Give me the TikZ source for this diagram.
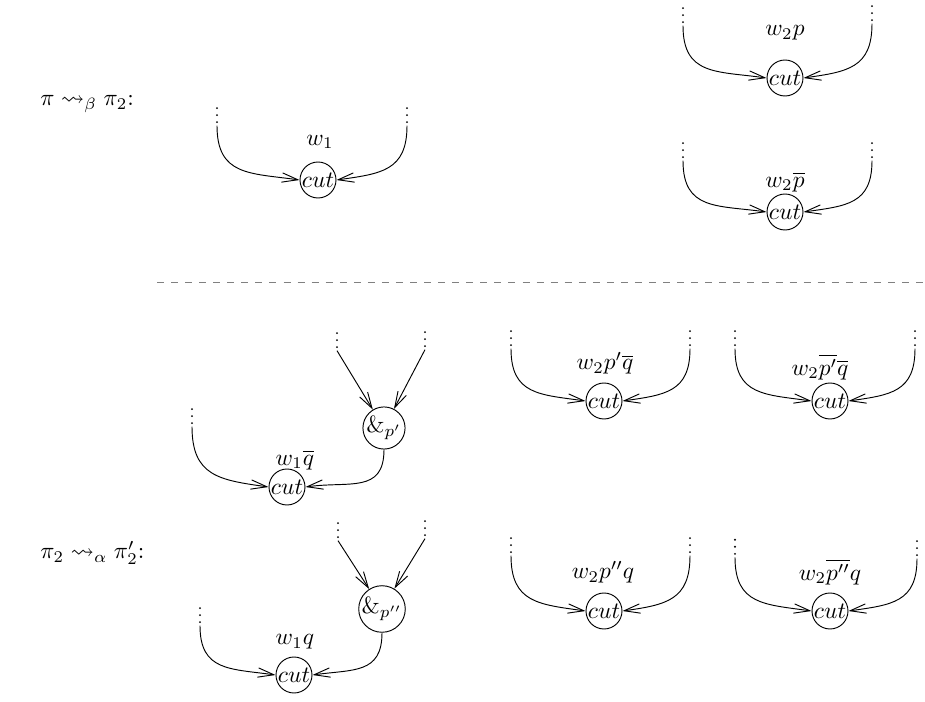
\documentclass[tikz,border=0pt]{standalone}
\usepackage{amsmath,amssymb}
\usepackage{tikz}
\usetikzlibrary{arrows.meta}

\begin{document}
\begin{tikzpicture}[
  font=\normalsize,
  >={Straight Barb[length=2.4mm,width=1.4mm]},
  cutnode/.style={circle, draw=black, minimum size=5.4mm, inner sep=0pt},
  parnode/.style={circle, draw=black, minimum size=6mm, inner sep=0pt},
  dotcol/.style={draw=black, dash pattern=on 0pt off 3pt, line cap=round, line width=0.9pt},
  wire/.style={->, draw=black, line width=0.4pt},
  inleft/.style={out=-90, in=172, looseness=1.3},
  inright/.style={out=-90, in=8, looseness=1.3}
]
  \useasboundingbox (0,0) rectangle (13.875,10.53);
  % step labels and separator
  \node[anchor=west] (hbeta) at (0.48,8.97) {$\pi \rightsquigarrow_{\beta} \pi_2$:};
  \node[anchor=west] (halpha) at (0.48,2.235) {$\pi_2 \rightsquigarrow_{\alpha} \pi_2'$:};
  \draw[gray, dashed] (2.355,6.30) -- (13.875,6.30);

  % open premisses (line starts), dots above each
  \coordinate (c1l) at (3.255,8.645);  \coordinate (c1r) at (6.105,8.645);
  \coordinate (c2l) at (10.245,10.145); \coordinate (c2r) at (13.08,10.175);
  \coordinate (c3l) at (10.245,8.12);  \coordinate (c3r) at (13.08,8.12);
  \coordinate (p1l) at (5.055,5.27);   \coordinate (p1r) at (6.375,5.285);
  \coordinate (c4l) at (2.88,4.13);
  \coordinate (p2l) at (5.07,2.42);    \coordinate (p2r) at (6.375,2.45);
  \coordinate (c5l) at (3.0,1.145);
  \coordinate (c6l) at (7.665,5.30);   \coordinate (c6r) at (10.35,5.30);
  \coordinate (c7l) at (11.025,5.30);  \coordinate (c7r) at (13.725,5.30);
  \coordinate (c8l) at (7.665,2.195);  \coordinate (c8r) at (10.35,2.195);
  \coordinate (c9l) at (11.025,2.17);  \coordinate (c9r) at (13.755,2.15);
  \foreach \p in {c1l,c1r,c2l,c2r,c3l,c3r,p1l,p1r,c4l,p2l,p2r,c5l,c6l,c6r,c7l,c7r,c8l,c8r,c9l,c9r}
    \draw[dotcol] ([yshift=1.5pt]\p) -- ++(0,6.2pt);

  % beta step
  \node[cutnode] (c1) at (4.77,7.83) {$cut$};
  \node (l1) at (4.80,8.40) {$w_1$};
  \draw[wire] (c1l) to[inleft] (c1.west);
  \draw[wire] (c1r) to[inright] (c1.east);

  \node[cutnode] (c2) at (11.775,9.36) {$cut$};
  \node (l2) at (11.775,10.035) {$w_2p$};
  \draw[wire] (c2l) to[inleft] (c2.west);
  \draw[wire] (c2r) to[inright] (c2.east);

  \node[cutnode] (c3) at (11.775,7.35) {$cut$};
  \node (l3) at (11.775,7.80) {$w_2\overline{p}$};
  \draw[wire] (c3l) to[inleft] (c3.west);
  \draw[wire] (c3r) to[inright] (c3.east);

  % alpha step, with p'
  \node[parnode] (p1) at (5.76,4.11) {$\&_{p'}$};
  \draw[wire] (p1l) -- (p1);
  \draw[wire] (p1r) -- (p1);
  \node[cutnode] (c4) at (4.305,3.225) {$cut$};
  \node (l4) at (4.425,3.63) {$w_1\overline{q}$};
  \draw[wire] (c4l) to[inleft] (c4.west);
  \draw[wire] (p1.south) to[inright] (c4.east);

  % alpha step, with p''
  \node[parnode] (p2) at (5.73,1.395) {$\&_{p''}$};
  \draw[wire] (p2l) -- (p2);
  \draw[wire] (p2r) -- (p2);
  \node[cutnode] (c5) at (4.41,0.405) {$cut$};
  \node (l5) at (4.425,0.90) {$w_1q$};
  \draw[wire] (c5l) to[inleft] (c5.west);
  \draw[wire] (p2.south) to[inright] (c5.east);

  % remaining cuts
  \node[cutnode] (c6) at (9.06,4.515) {$cut$};
  \node (l6) at (9.075,5.085) {$w_2p'\overline{q}$};
  \draw[wire] (c6l) to[inleft] (c6.west);
  \draw[wire] (c6r) to[inright] (c6.east);

  \node[cutnode] (c7) at (12.45,4.515) {$cut$};
  \node (l7) at (12.30,5.025) {$w_2\overline{p'}\overline{q}$};
  \draw[wire] (c7l) to[inleft] (c7.west);
  \draw[wire] (c7r) to[inright] (c7.east);

  \node[cutnode] (c8) at (9.06,1.365) {$cut$};
  \node (l8) at (9.045,1.95) {$w_2p''q$};
  \draw[wire] (c8l) to[inleft] (c8.west);
  \draw[wire] (c8r) to[inright] (c8.east);

  \node[cutnode] (c9) at (12.45,1.365) {$cut$};
  \node (l9) at (12.45,1.95) {$w_2\overline{p''}q$};
  \draw[wire] (c9l) to[inleft] (c9.west);
  \draw[wire] (c9r) to[inright] (c9.east);
\end{tikzpicture}
\end{document}
